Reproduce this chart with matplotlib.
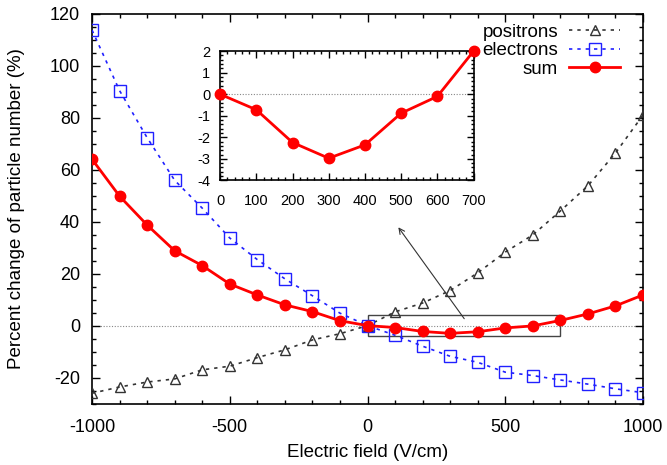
import matplotlib
matplotlib.use("Agg")
import matplotlib.pyplot as plt
from matplotlib.patches import Rectangle
from matplotlib.ticker import MultipleLocator

plt.rcParams['font.family'] = ['Liberation Sans', 'DejaVu Sans']
plt.rcParams['axes.unicode_minus'] = False

field = list(range(-1000, 1001, 100))
positrons = [-26.0, -23.6, -21.7, -20.5, -17.0, -15.6, -12.3, -9.3, -5.5, -3.1, 0.0,
             5.3, 8.7, 13.5, 20.3, 28.3, 34.9, 44.1, 53.8, 66.4, 81.0]
electrons = [113.7, 90.4, 72.3, 55.9, 45.2, 33.7, 25.4, 18.0, 11.5, 4.8, 0.0,
             -3.7, -7.9, -11.8, -14.1, -17.9, -19.2, -20.9, -22.5, -24.3, -25.8]
total = [64.0, 49.8, 38.7, 28.8, 23.1, 16.0, 11.8, 8.0, 5.4, 1.9, 0.0,
         -0.72, -2.24, -2.97, -2.35, -0.88, -0.1, 2.0, 4.5, 7.6, 11.8]

inset_field = [0, 100, 200, 300, 400, 500, 600, 700]
inset_total = [0.0, -0.72, -2.24, -2.97, -2.35, -0.88, -0.1, 2.0]

fig = plt.figure(figsize=(6.67, 4.65), dpi=100)
ax = fig.add_axes([0.138, 0.132, 0.826, 0.8385])

ax.axhline(0, color='#888888', lw=0.8, ls=(0, (1, 1.5)), zorder=1)
ax.plot(field, positrons, color='#333333', ls=(0, (2, 3)), lw=1.2, marker='^',
        mfc='none', mec='#333333', ms=7, mew=1.0, label='positrons', zorder=3)
ax.plot(field, electrons, color='#2020ff', ls=(0, (2, 3)), lw=1.2, marker='s',
        mfc='none', mec='#2020ff', ms=8, mew=1.0, label='electrons', zorder=3)
ax.plot(field, total, color='#ff0000', ls='-', lw=2, marker='o',
        mfc='#ff0000', mec='#ff0000', ms=7.5, label='sum', zorder=4)

ax.add_patch(Rectangle((0, -4), 700, 8, fill=False, ec='#444444', lw=1.0, zorder=2))
ax.annotate('', xy=(106, 38.7), xytext=(357, 1.8),
            arrowprops=dict(arrowstyle='->', color='#333333', lw=0.8), zorder=2)

ax.set_xlim(-1000, 1000)
ax.set_ylim(-30, 120)
ax.xaxis.set_major_locator(MultipleLocator(500))
ax.xaxis.set_minor_locator(MultipleLocator(100))
ax.yaxis.set_major_locator(MultipleLocator(20))
ax.yaxis.set_minor_locator(MultipleLocator(5))
ax.tick_params(which='both', direction='in', top=True, right=True, labelsize=13, width=1)
ax.tick_params(which='major', length=6)
ax.tick_params(axis='y', which='major', pad=8.5)
ax.tick_params(axis='x', which='major', pad=11)
ax.tick_params(which='minor', length=3)
for s in ax.spines.values():
    s.set_linewidth(1.2)
ax.set_xlabel('Electric field (V/cm)', fontsize=13.5, labelpad=6)
ax.set_ylabel('Percent change of particle number (%)', fontsize=13.5, labelpad=18)

ax.legend(loc='upper right', bbox_to_anchor=(0.958, 0.975), frameon=False,
          markerfirst=False, fontsize=13.5, handlelength=2.7, handletextpad=0.6,
          labelspacing=0.08, borderpad=0, borderaxespad=0)

ins = fig.add_axes([0.330, 0.612, 0.380, 0.278])
ins.axhline(0, color='#888888', lw=0.8, ls=(0, (1, 1.5)), zorder=1)
ins.plot(inset_field, inset_total, color='#ff0000', lw=2, marker='o', ms=7.5,
         mfc='#ff0000', mec='#ff0000', clip_on=False, zorder=4)
ins.set_xlim(0, 700)
ins.set_ylim(-4, 2)
ins.xaxis.set_major_locator(MultipleLocator(100))
ins.xaxis.set_minor_locator(MultipleLocator(20))
ins.yaxis.set_major_locator(MultipleLocator(1))
ins.yaxis.set_minor_locator(MultipleLocator(0.2))
ins.tick_params(which='both', direction='in', top=True, right=True, labelsize=10.5, width=1)
ins.tick_params(which='major', length=5)
ins.tick_params(axis='y', which='major', pad=7)
ins.tick_params(axis='x', which='major', pad=10)
ins.tick_params(which='minor', length=2.5)
for s in ins.spines.values():
    s.set_linewidth(1.2)

fig.savefig('out.png', dpi=100)
